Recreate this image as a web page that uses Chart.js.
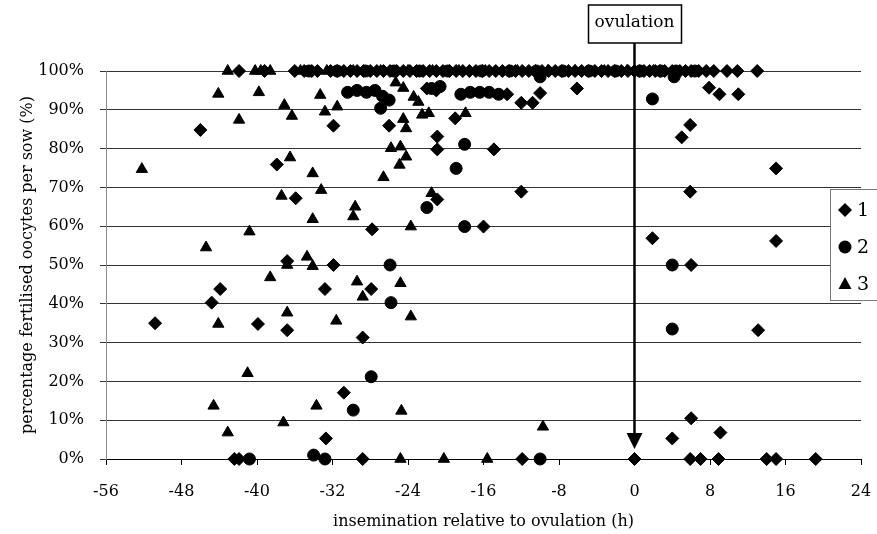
<!DOCTYPE html>
<html>
<head>
<meta charset="utf-8">
<style>
  html, body { margin: 0; padding: 0; background: #fff; }
  #wrap { width: 877px; height: 534px; position: relative; }
</style>
</head>
<body>
<div id="wrap"><canvas id="chart" width="877" height="534"></canvas></div>
<script src="https://cdn.jsdelivr.net/npm/chart.js@4.4.1/dist/chart.umd.min.js"></script>
<script>
// axis ticks
const xTicks = [-56, -48, -40, -32, -24, -16, -8, 0, 8, 16, 24];
const yTicks = [0, 10, 20, 30, 40, 50, 60, 70, 80, 90, 100];
const seriesNames = ["1", "2", "3"];

// series 1 (diamonds): [hours, % fertilised]
const series1 = [
  [-41.9,100],[-39.2,100],[-36.0,100],[-35.0,100],[-34.2,100],[-33.6,100],[-32.2,100],[-31.5,100],
  [-30.8,100],[-30.1,100],[-29.4,100],[-28.7,100],[-28.0,100],[-27.3,100],[-26.6,100],[-25.9,100],
  [-25.2,100],[-24.5,100],[-23.8,100],[-23.1,100],[-22.4,100],[-21.7,100],[-21.0,100],[-20.3,100],
  [-19.6,100],[-18.9,100],[-18.2,100],[-17.5,100],[-16.8,100],[-16.1,100],[-15.4,100],[-14.7,100],
  [-14.0,100],[-13.3,100],[-12.6,100],[-11.9,100],[-11.2,100],[-10.5,100],[-9.8,100],[-9.1,100],
  [-8.4,100],[-7.7,100],[-7.0,100],[-6.3,100],[-5.6,100],[-4.9,100],[-4.2,100],[-3.5,100],
  [-2.8,100],[-2.1,100],[-1.4,100],[-0.7,100],[0,100],[0.5,100],[1.0,100],[1.6,100],[2.2,100],
  [2.7,100],[3.2,100],[4.0,100],[4.8,100],[5.4,100],[6.0,100],[6.8,100],[7.6,100],
  [8.4,100],[9.8,100],[10.9,100],[13.0,100],
  [-22.0,95.5],[-21.0,95],[-13.5,94],[-12.0,91.8],[-10.8,91.8],[-10.0,94.3],[-6.1,95.5],
  [7.9,95.7],[9.0,94],[11.0,94],
  [-46.0,84.8],[-31.9,85.9],[-26.0,85.9],[-19.0,87.8],[-20.9,83.1],[-20.9,79.8],[-14.9,79.8],
  [5.9,86.1],[5.0,82.9],
  [-37.9,75.9],[15.0,74.9],[-35.9,67.2],[-20.9,66.9],[-12.0,68.9],[5.9,68.9],
  [-27.8,59.2],[-16.0,59.9],[1.9,56.9],[15.0,56.2],
  [-36.8,51],[-31.9,50],[6.0,50],
  [-43.9,43.8],[-44.8,40.3],[-32.8,43.8],[-27.9,43.8],
  [-50.8,35],[-39.9,34.8],[-36.8,33.2],[-28.8,31.3],[13.1,33.2],
  [-30.8,17.1],[6.0,10.5],[-32.7,5.3],[4.0,5.3],[9.1,6.8],
  [-42.4,0],[-41.9,0],[-28.8,0],[-11.9,0],[0,0],[5.9,0],[7.0,0],[8.9,0],[14.0,0],[15.0,0],[19.2,0]
];

// series 2 (circles)
const series2 = [
  [-34.5,100],[-31.5,100],[-28.5,100],[-25.5,100],[-22.8,100],[-19.8,100],[-16.2,100],[-13.2,100],
  [-10.4,100],[-7.6,100],[-4.8,100],[-2.0,100],[0.6,100],[2.8,100],[4.4,100],[6.4,100],
  [-10.0,98.5],[4.2,98.5],
  [-30.4,94.5],[-29.4,95],[-28.4,94.5],[-27.5,95],[-26.7,93.5],[-26.0,92.5],
  [-21.5,95.5],[-20.6,96],
  [-18.4,94],[-17.4,94.5],[-16.4,94.5],[-15.4,94.5],[-14.4,94],
  [1.9,92.8],
  [-26.9,90.4],[-18.0,81.1],[-18.9,74.9],[-22.0,64.8],[-18.0,59.9],
  [-25.9,50],[-25.8,40.3],[4.0,50],[4.0,33.5],
  [-27.9,21.2],[-29.8,12.6],
  [-40.8,0],[-34.0,1],[-32.8,0],[-10.0,0]
];

// series 3 (triangles)
const series3 = [
  [-43.1,100],[-40.2,100],[-39.6,100],[-38.6,100],[-35.4,100],[-32.6,100],[-29.8,100],[-26.9,100],
  [-24.0,100],[-21.4,100],[-18.6,100],[-15.8,100],[-12.4,100],[-9.2,100],[-6.3,100],[-3.2,100],
  [-0.8,100],[2.0,100],
  [-44.1,94.1],[-39.8,94.5],[-33.3,93.8],[-37.1,91.2],[-36.3,88.4],[-32.8,89.5],[-31.5,90.8],[-41.9,87.4],
  [-25.3,97],[-24.5,95.6],[-23.4,93.3],[-22.9,92],
  [-24.5,87.6],[-24.2,85.2],[-22.5,88.7],[-21.8,89.1],[-17.9,89.1],
  [-25.8,80.1],[-24.8,80.5],[-24.2,77.9],[-24.9,75.8],
  [-52.2,74.7],[-36.5,77.7],[-34.1,73.6],[-26.6,72.6],
  [-37.4,67.8],[-33.2,69.3],[-21.5,68.5],[-29.6,65],[-29.8,62.5],[-34.1,61.8],
  [-40.8,58.6],[-23.7,59.9],[-45.4,54.5],
  [-36.8,50],[-34.7,52.1],[-34.1,49.7],
  [-38.6,46.8],[-29.4,45.7],[-24.8,45.3],[-28.8,41.8],
  [-36.8,37.7],[-44.1,34.8],[-31.6,35.6],[-23.7,36.7],
  [-41.0,22.1],[-44.6,13.7],[-33.7,13.7],[-24.7,12.4],[-37.2,9.4],[-9.7,8.3],[-43.1,6.8],
  [-24.8,0],[-20.2,0],[-15.6,0]
];

const FONT = "'DejaVu Serif', 'Liberation Serif', serif";
const toPts = arr => arr.map(p => ({x: p[0], y: p[1]}));

// ovulation box + arrow + legend box
const extras = {
  id: "extras",
  afterDatasetsDraw(c){
    const ctx = c.ctx;
    const x0 = c.scales.x.getPixelForValue(0);
    const yBase = c.scales.y.getPixelForValue(0);
    ctx.save();
    // box
    ctx.fillStyle = "#fff";
    ctx.fillRect(x0 - 46, 5, 93, 38);
    ctx.strokeStyle = "#000";
    ctx.lineWidth = 1.5;
    ctx.strokeRect(x0 - 46, 5, 93, 38);
    ctx.fillStyle = "#000";
    ctx.font = "17px " + FONT;
    ctx.textAlign = "center";
    ctx.textBaseline = "middle";
    ctx.fillText("ovulation", x0, 23);
    // arrow
    ctx.lineWidth = 2.5;
    ctx.beginPath();
    ctx.moveTo(x0, 43);
    ctx.lineTo(x0, yBase - 24);
    ctx.stroke();
    ctx.beginPath();
    ctx.moveTo(x0 - 8, yBase - 26);
    ctx.lineTo(x0 + 8, yBase - 26);
    ctx.lineTo(x0, yBase - 10);
    ctx.closePath();
    ctx.fill();

    // legend
    ctx.lineWidth = 1;
    ctx.strokeStyle = "#777";
    ctx.fillStyle = "#fff";
    ctx.fillRect(830.5, 189.5, 60, 111);
    ctx.strokeRect(830.5, 189.5, 60, 111);
    ctx.fillStyle = "#000";
    const lx = 845, rows = [210, 247, 284];
    // diamond
    ctx.beginPath();
    ctx.moveTo(lx - 7, rows[0]); ctx.lineTo(lx, rows[0] - 7);
    ctx.lineTo(lx + 7, rows[0]); ctx.lineTo(lx, rows[0] + 7);
    ctx.closePath(); ctx.fill();
    // circle
    ctx.beginPath();
    ctx.arc(lx, rows[1], 6.5, 0, Math.PI * 2);
    ctx.fill();
    // triangle
    ctx.beginPath();
    ctx.moveTo(lx, rows[2] - 7); ctx.lineTo(lx + 6.5, rows[2] + 5); ctx.lineTo(lx - 6.5, rows[2] + 5);
    ctx.closePath(); ctx.fill();
    ctx.font = "19px " + FONT;
    ctx.textAlign = "left";
    seriesNames.forEach((n, i) => ctx.fillText(n, 857, rows[i] + 1));
    ctx.restore();
  }
};

const chart = new Chart(document.getElementById("chart").getContext("2d"), {
  type: "scatter",
  data: {
    datasets: [
      {label: seriesNames[0], data: toPts(series1), pointStyle: "rectRot", pointRadius: 6.5},
      {label: seriesNames[1], data: toPts(series2), pointStyle: "circle", pointRadius: 6},
      {label: seriesNames[2], data: toPts(series3), pointStyle: "triangle", pointRadius: 6.5}
    ].map(d => Object.assign(d, {
      backgroundColor: "#000", borderColor: "#000", borderWidth: 1, clip: false
    }))
  },
  options: {
    responsive: false,
    animation: false,
    layout: { padding: {top: 71, right: 0, bottom: 0, left: 0} },
    plugins: { legend: {display: false}, tooltip: {enabled: false} },
    scales: {
      x: {
        type: "linear", min: -56, max: 24,
        afterBuildTicks: s => { s.ticks = xTicks.map(v => ({value: v})); },
        afterFit: s => { s.height = 75; s.paddingRight = 16; },
        grid: { drawOnChartArea: false, drawTicks: true, tickLength: 6, color: "#000" },
        border: { display: true, color: "#000", width: 1 },
        ticks: { color: "#000", padding: 17, font: {family: FONT, size: 16}, maxRotation: 0 },
        title: { display: true, text: "insemination relative to ovulation (h)", color: "#000",
                 font: {family: FONT, size: 16}, padding: {top: 0, bottom: 3} }
      },
      y: {
        type: "linear", min: 0, max: 100,
        afterBuildTicks: s => { s.ticks = yTicks.map(v => ({value: v})); },
        afterFit: s => { s.width = 106; },
        grid: { color: "#333", lineWidth: 1, tickLength: 6 },
        border: { display: true, color: "#888", width: 1 },
        ticks: { color: "#000", padding: 16, font: {family: FONT, size: 16},
                 callback: v => v + "%" },
        title: { display: true, text: "percentage fertilised oocytes per sow (%)", color: "#000",
                 font: {family: FONT, size: 16}, padding: {top: 18, bottom: 0} }
      }
    }
  },
  plugins: [extras]
});
</script>
</body>
</html>
